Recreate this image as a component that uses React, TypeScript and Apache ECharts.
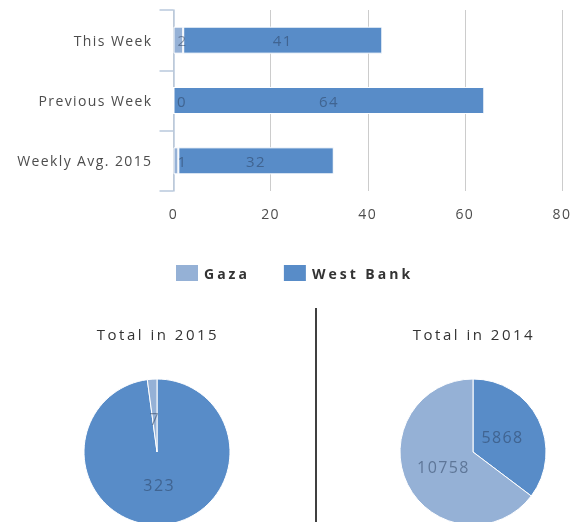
import React, { useEffect, useRef } from "react";
import * as echarts from "echarts";

const categories = ["This Week", "Previous Week", "Weekly Avg. 2015"];
const gazaWeekly = [2, 0, 1];
const westBankWeekly = [41, 64, 32];
const seriesNames = ["Gaza", "West Bank"];
const total2015 = { gaza: 7, westBank: 323 };
const total2014 = { gaza: 10758, westBank: 5868 };
const pieTitles = ["Total in 2015", "Total in 2014"];

const GAZA = "#95b1d6";
const WB = "#588cc8";
const FONT = "'Open Sans', sans-serif";
const LABEL = "rgba(40,60,90,0.5)";

export default function App() {
  const ref = useRef<HTMLDivElement>(null);
  useEffect(() => {
    const chart = echarts.init(ref.current!, null, { renderer: "svg" });
    const barLabel = {
      show: true,
      fontSize: 15,
      fontFamily: FONT,
      color: LABEL,
    };
    const makePies = (name: string, cx: number, vals: { gaza: number; westBank: number }) => {
      const data = [
        { name: seriesNames[1], value: vals.westBank, itemStyle: { color: WB } },
        { name: seriesNames[0], value: vals.gaza, itemStyle: { color: GAZA } },
      ];
      return [
        {
          type: "pie",
          name,
          radius: 73,
          center: [cx, 452],
          startAngle: 90,
          clockwise: true,
          label: { show: false },
          labelLine: { show: false },
          itemStyle: { borderColor: "#fff", borderWidth: 1 },
          emphasis: { disabled: true },
          data,
        },
        {
          type: "pie",
          name: name + " labels",
          radius: 60,
          center: [cx, 452],
          startAngle: 90,
          clockwise: true,
          silent: true,
          z: 3,
          label: {
            show: true,
            position: "inside",
            fontSize: 16,
            fontFamily: FONT,
            color: LABEL,
            formatter: "{c}",
          },
          labelLine: { show: false },
          itemStyle: { color: "rgba(0,0,0,0)", borderWidth: 0 },
          emphasis: { disabled: true },
          data: data.map((d) => ({ name: d.name, value: d.value })),
        },
      ];
    };
    chart.setOption({
      animation: false,
      textStyle: { fontFamily: FONT },
      legend: {
        data: seriesNames,
        top: 263,
        left: 174,
        padding: 0,
        itemWidth: 24,
        itemHeight: 18,
        itemGap: 44,
        icon: "rect",
        textStyle: { fontSize: 14, fontWeight: "bold", color: "#333", fontFamily: FONT },
      },
      title: [
        {
          text: pieTitles[0],
          left: 153,
          top: 321,
          textAlign: "center",
          textStyle: { fontSize: 15, fontWeight: 500, color: "#333", fontFamily: FONT },
        },
        {
          text: pieTitles[1],
          left: 469,
          top: 321,
          textAlign: "center",
          textStyle: { fontSize: 15, fontWeight: 500, color: "#333", fontFamily: FONT },
        },
      ],
      grid: { left: 173.5, right: 21, top: 10, height: 181 },
      xAxis: {
        type: "value",
        min: 0,
        max: 80,
        interval: 20,
        axisLine: { show: false },
        axisTick: { show: false },
        splitLine: { lineStyle: { color: "#cccccc" } },
        axisLabel: { color: "#4d4d4d", fontSize: 14, margin: 15, fontFamily: FONT },
      },
      yAxis: {
        type: "category",
        data: categories,
        inverse: true,
        axisLine: { show: true, lineStyle: { color: "#b9c9dd", width: 1.5 } },
        axisTick: { show: true, length: 14, lineStyle: { color: "#b9c9dd", width: 1.5 } },
        axisLabel: { color: "#4d4d4d", fontSize: 14, margin: 21, fontFamily: FONT },
      },
      graphic: [
        {
          type: "line",
          shape: { x1: 316, y1: 308, x2: 316, y2: 522 },
          style: { stroke: "#000", lineWidth: 1.5 },
        },
      ],
      series: [
        {
          name: seriesNames[0],
          type: "bar",
          stack: "total",
          data: gazaWeekly,
          barWidth: 27,
          itemStyle: { color: GAZA, borderColor: "#fff", borderWidth: 1 },
          label: { ...barLabel, position: "insideLeft", distance: 4 },
        },
        {
          name: seriesNames[1],
          type: "bar",
          stack: "total",
          data: westBankWeekly,
          barWidth: 27,
          itemStyle: { color: WB, borderColor: "#fff", borderWidth: 1 },
          label: { ...barLabel, position: "inside" },
        },
        ...makePies(pieTitles[0], 157, total2015),
        ...makePies(pieTitles[1], 473, total2014),
      ],
    });
    return () => chart.dispose();
  }, []);
  return (
    <>
      <style>{`
        #chartbox text { letter-spacing: 1.4px; }
        #chartbox text[style*="500"] { letter-spacing: 2.5px; }
        #chartbox text[style*="bold"] { letter-spacing: 3px; }
      `}</style>
      <div
        id="chartbox"
        ref={ref}
        style={{ position: "fixed", left: 0, top: 0, width: 583, height: 522 }}
      />
    </>
  );
}
